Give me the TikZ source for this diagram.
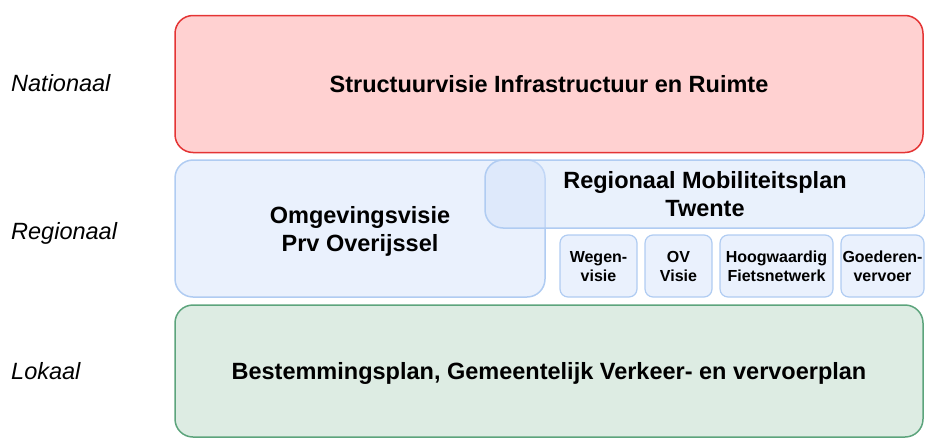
\documentclass[tikz,border=0pt]{standalone}
\usepackage{fontspec}
\setmainfont{Liberation Sans}
\definecolor{reddraw}{RGB}{228,52,52}
\definecolor{redfill}{RGB}{255,209,209}
\definecolor{bluedraw}{RGB}{176,204,242}
\definecolor{bluefill}{RGB}{234,241,253}
\definecolor{bluedeep}{RGB}{212,227,250}
\definecolor{greendraw}{RGB}{92,164,124}
\definecolor{greenfill}{RGB}{221,236,227}
\begin{document}
\begin{tikzpicture}[x=1pt,y=-1pt]
\tikzstyle{lvl}=[font=\fontsize{23.5}{28}\selectfont\itshape,anchor=west,inner sep=0pt];
\tikzstyle{box}=[draw,rounded corners=18pt,line width=1.5pt,inner sep=0pt,text depth=0pt];
\tikzstyle{big}=[font=\fontsize{23.5}{28}\selectfont\bfseries,align=center];
\tikzstyle{sub}=[box,rounded corners=8pt,line width=1.2pt,draw=bluedraw,fill=bluefill,
  font=\fontsize{16}{19}\selectfont\bfseries,align=center];

\useasboundingbox (0,0) rectangle (925,439);

% levels
\node[lvl] (nat) at (11,83) {Nationaal};
\node[lvl] (reg) at (11,233) {Regionaal};
\node[lvl] (lok) at (11,371) {Lokaal};

% national
\node[box,big,draw=reddraw,fill=redfill,minimum width=748pt,minimum height=137pt]
  (sir) at (549,84) {Structuurvisie Infrastructuur en Ruimte};

% regional
\node[box,big,draw=bluedraw,fill=bluefill,minimum width=370pt,minimum height=137pt]
  (ov) at (360,228.5) {Omgevingsvisie\\Prv Overijssel};
\node[box,big,draw=bluedraw,fill=bluedeep,fill opacity=0.5,text opacity=1,
  minimum width=440pt,minimum height=68pt] (rmp) at (705,194) {Regionaal Mobiliteitsplan\\Twente};
\node[sub,minimum width=77pt,minimum height=62pt] (weg) at (598.5,266) {Wegen-\\visie};
\node[sub,minimum width=67pt,minimum height=62pt] (ovv) at (678.5,266) {OV\\Visie};
\node[sub,minimum width=113pt,minimum height=62pt] (fiets) at (776.5,266) {Hoogwaardig\\Fietsnetwerk};
\node[sub,minimum width=83pt,minimum height=62pt] (goed) at (882.5,266) {Goederen-\\vervoer};

% local
\node[box,big,draw=greendraw,fill=greenfill,minimum width=748pt,minimum height=132pt]
  (bp) at (549,371) {Bestemmingsplan, Gemeentelijk Verkeer- en vervoerplan};
\end{tikzpicture}
\end{document}
